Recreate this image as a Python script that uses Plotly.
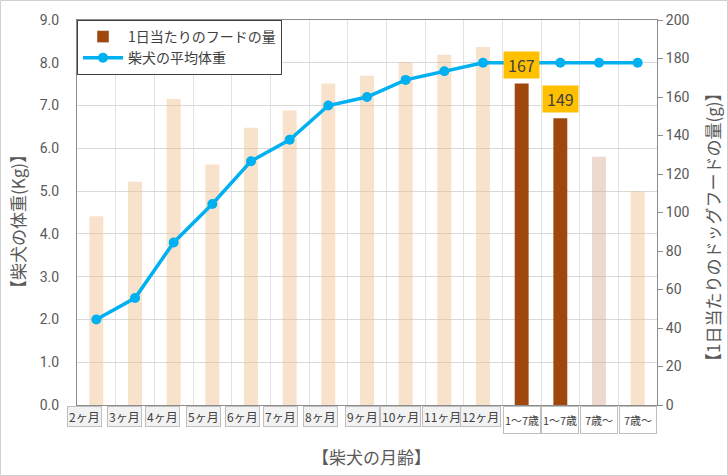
import plotly.graph_objects as go

# ---- data ----
categories = ["2ヶ月", "3ヶ月", "4ヶ月", "5ヶ月", "6ヶ月", "7ヶ月", "8ヶ月", "9ヶ月",
              "10ヶ月", "11ヶ月", "12ヶ月", "1〜7歳", "1〜7歳", "7歳〜", "7歳〜"]
food_g = [98, 116, 159, 125, 144, 153, 167, 171, 178, 182, 186, 167, 149, 129, 111]
weight_kg = [2.0, 2.5, 3.8, 4.7, 5.7, 6.2, 7.0, 7.2, 7.6, 7.8, 8.0, 8.0, 8.0, 8.0, 8.0]
callout_idx = [11, 12]
callout_text = ["167", "149"]
label_xshift = [-12, -11, -11, -9, -9, -9, -8, -5, -5, -2, -3, 0, 0, 0, 0]

LIGHT = "rgba(240,190,140,0.45)"
PINK = "rgba(215,165,140,0.42)"
DARK = "#9E480E"
BLUE = "#00B0F0"
bar_colors = [LIGHT] * 11 + [DARK, DARK, PINK, LIGHT]

W, H = 728, 476
ML, MR, MT, MB = 77, 71, 20, 71
PW, PH = W - ML - MR, H - MT - MB

xs = list(range(len(categories)))
FONT = "Noto Sans CJK JP"
GRAY = "#595959"

fig = go.Figure()
# legend entry for food bars
fig.add_trace(go.Bar(x=[None], y=[None], name="1日当たりのフードの量",
                     marker=dict(color=DARK), yaxis="y", showlegend=True))
fig.add_trace(go.Bar(x=xs, y=food_g, marker=dict(color=bar_colors, line=dict(width=0)),
                     width=0.36, yaxis="y", showlegend=False, hoverinfo="skip"))
fig.add_trace(go.Scatter(x=xs, y=weight_kg, name="柴犬の平均体重", mode="lines+markers",
                         line=dict(color=BLUE, width=3.5),
                         marker=dict(color=BLUE, size=10), yaxis="y2"))

annotations = []
for i, t in zip(callout_idx, callout_text):
    annotations.append(dict(x=xs[i], y=food_g[i], xref="x", yref="y", text=t,
                            showarrow=False, yanchor="bottom", yshift=5,
                            bgcolor="#FFC000", width=33, height=24,
                            font=dict(size=16, color="#404040", family=FONT)))
for i, c in enumerate(categories):
    big = i >= 11
    annotations.append(dict(x=xs[i], y=0, xref="x", yref="paper", text=c,
                            showarrow=False, yanchor="top", yshift=-1,
                            xshift=label_xshift[i],
                            bgcolor="#FFFFFF" if big else "#F2F2F2",
                            bordercolor="#BFBFBF", borderwidth=1, borderpad=1,
                            width=34 if big else None, height=24 if big else None,
                            font=dict(size=11 if big else 12, color="#404040", family=FONT)))
annotations.append(dict(x=(18 - ML) / PW, y=(H - 222 - MB) / PH, xref="paper", yref="paper",
                        xanchor="center", yanchor="middle",
                        text="【柴犬の体重(Kg)】", textangle=-90, showarrow=False,
                        font=dict(size=17, color=GRAY, family=FONT)))
annotations.append(dict(x=(712 - ML) / PW, y=(H - 227 - MB) / PH, xref="paper", yref="paper",
                        xanchor="center", yanchor="middle",
                        text="【1日当たりのドッグフードの量(g)】", textangle=-90, showarrow=False,
                        font=dict(size=17, color=GRAY, family=FONT)))
annotations.append(dict(x=(371 - ML) / PW, y=(H - 456 - MB) / PH, xref="paper", yref="paper",
                        xanchor="center", yanchor="middle",
                        text="【柴犬の月齢】", showarrow=False,
                        font=dict(size=17, color=GRAY, family=FONT)))

fig.update_layout(
    width=W, height=H,
    margin=dict(l=ML, r=MR, t=MT, b=MB),
    paper_bgcolor="white", plot_bgcolor="white",
    barmode="overlay",
    font=dict(family=FONT, color=GRAY),
    xaxis=dict(range=[-0.5, len(categories) - 0.5], tick0=-0.5, dtick=1,
               showticklabels=False, ticks="", showgrid=True, gridcolor="#E3E3E3",
               showline=True, linecolor="#8C8C8C", mirror=True, zeroline=False,
               fixedrange=True),
    yaxis=dict(side="right", range=[0, 200], dtick=20, showgrid=False,
               showline=True, linecolor="#8C8C8C", ticks="outside", ticklen=5,
               tickcolor="#8C8C8C", zeroline=False,
               tickfont=dict(size=14, color=GRAY, family="Roboto")),
    yaxis2=dict(side="left", overlaying="y", range=[0, 9], dtick=1, tickformat=".1f",
                showgrid=True, gridcolor="#D9D9D9", showline=True, linecolor="#8C8C8C",
                zeroline=False, ticks="", ticklabelstandoff=14,
                tickfont=dict(size=14, color=GRAY, family="Roboto")),
    legend=dict(x=0, y=1, xanchor="left", yanchor="top", bgcolor="white",
                bordercolor="#404040", borderwidth=1, tracegroupgap=0,
                font=dict(size=14, color="#404040", family=FONT), itemwidth=40),
    annotations=annotations,
    shapes=[dict(type="rect", xref="paper", yref="paper",
                 x0=(-ML + 0.5) / PW, x1=1 + (MR - 0.5) / PW,
                 y0=(-MB + 0.5) / PH, y1=1 + (MT - 0.5) / PH,
                 line=dict(color="#D0D0D0", width=1), layer="below")],
    showlegend=True,
)

fig.write_html("out.html")
